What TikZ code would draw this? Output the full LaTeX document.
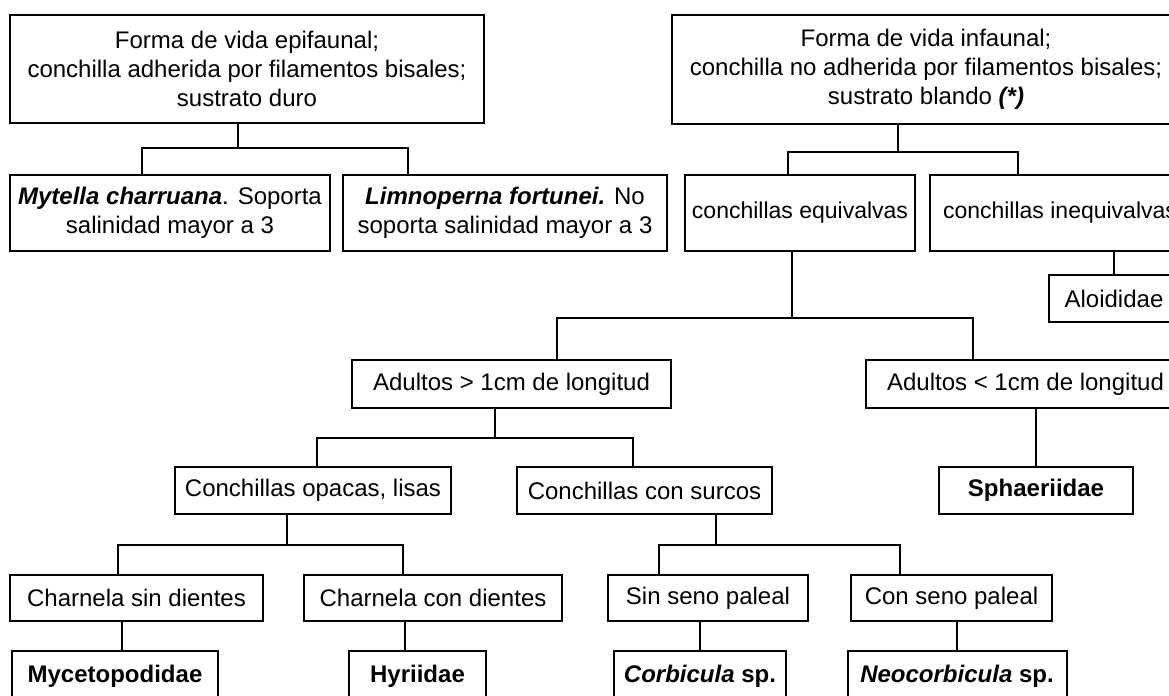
\documentclass[tikz,border=0pt]{standalone}
\usepackage{fontspec}
\setmainfont{Liberation Sans}
\usetikzlibrary{calc}

\begin{document}
\begin{tikzpicture}[x=0.5pt,y=-0.5pt]
	\tikzset{box/.style={draw, line width=1pt, inner sep=0pt, align=center,
			font=\fontsize{12}{14.4}\selectfont},
		small box/.style={box, font=\fontsize{11.5}{13.8}\selectfont},
		link/.style={line width=1pt}}
	\useasboundingbox (0,0) rectangle (1169,696);
	\clip (0,0) rectangle (1169,696);

	% Draw the boxes
	\node[box, minimum width=237pt, minimum height=54pt] at (247,69) (epi) {Forma de vida epifaunal;\\conchilla adherida por filamentos bisales;\\sustrato duro};
	\node[box, minimum width=254pt, minimum height=54.5pt] at (926,69.5) (inf) {Forma de vida infaunal;\\conchilla no adherida por filamentos bisales;\\sustrato blando \textbf{\textit{(*)}}};
	\node[box, minimum width=160pt, minimum height=38pt] at (170,213) (myt) {\textbf{\textit{Mytella charruana}}. Soporta\\salinidad mayor a 3};
	\node[box, minimum width=162pt, minimum height=38pt] at (505,213) (lim) {\textbf{\textit{Limnoperna fortunei.}} No\\soporta salinidad mayor a 3};
	\node[small box, minimum width=115pt, minimum height=38pt] at (800,213) (equ) {conchillas equivalvas};
	\node[small box, minimum width=130pt, minimum height=38pt] at (1060,213) (ineq) {conchillas inequivalvas};
	\node[box, minimum width=65pt, minimum height=23.5pt] at (1114,298.5) (alo) {Aloididae};
	\node[box, minimum width=159.5pt, minimum height=24pt] at (511.5,384) (ad1) {Adultos > 1cm de longitud};
	\node[box, minimum width=159.5pt, minimum height=24pt] at (1025.5,384) (ad2) {Adultos < 1cm de longitud};
	\node[box, minimum width=138pt, minimum height=23.5pt] at (313,490.5) (opa) {Conchillas opacas, lisas};
	\node[box, minimum width=127.5pt, minimum height=23.5pt] at (644.5,490.5) (sur) {Conchillas con surcos};
	\node[box, minimum width=97pt, minimum height=23.5pt] at (1036,490.5) (sph) {\textbf{Sphaeriidae}};
	\node[box, minimum width=126.5pt, minimum height=23pt] at (136.5,598) (csd) {Charnela sin dientes};
	\node[box, minimum width=129pt, minimum height=23pt] at (433,598) (ccd) {Charnela con dientes};
	\node[box, minimum width=100pt, minimum height=23pt] at (708,598) (ssp) {Sin seno paleal};
	\node[box, minimum width=100.5pt, minimum height=23pt] at (951.5,598) (csp) {Con seno paleal};
	\node[box, minimum width=103pt, minimum height=25pt] at (115,676) (myc) {\textbf{Mycetopodidae}};
	\node[box, minimum width=68.5pt, minimum height=25pt] at (417.5,676) (hyr) {\textbf{Hyriidae}};
	\node[box, minimum width=86pt, minimum height=25pt] at (700,676) (cor) {\textbf{\textit{Corbicula} sp.}};
	\node[box, minimum width=109.5pt, minimum height=25pt] at (957,676) (neo) {\textbf{\textit{Neocorbicula} sp.}};

	% Connect the boxes
	\draw[link] ($(epi.south)+(-9,0)$) -- ++(0,24) coordinate (b1);
	\draw[link] ($(myt.north)+(-28,0)$) |- (b1) -| ($(lim.north)+(-97,0)$);
	\draw[link] ($(inf.south)+(-28,0)$) -- ++(0,27) coordinate (b2);
	\draw[link] ($(equ.north)+(-12,0)$) |- (b2) -| ($(ineq.north)+(-42,0)$);
	\draw[link] ($(ineq.south)+(54,0)$) -- (alo.north);
	\draw[link] ($(equ.south)+(-8,0)$) -- ++(0,66) coordinate (b3);
	\draw[link] ($(ad1.north)+(45.5,0)$) |- (b3) -| ($(ad2.north)+(-52.5,0)$);
	\draw[link] ($(ad2.south)+(10.5,0)$) -- (sph.north);
	\draw[link] ($(ad1.south)+(-16.5,0)$) -- ++(0,29) coordinate (b4);
	\draw[link] ($(opa.north)+(4,0)$) |- (b4) -| ($(sur.north)+(-11.5,0)$);
	\draw[link] ($(opa.south)+(-26,0)$) -- ++(0,30) coordinate (b5);
	\draw[link] ($(csd.north)+(-18.5,0)$) |- (b5) -| ($(ccd.north)+(-30,0)$);
	\draw[link] ($(sur.south)+(71.5,0)$) -- ++(0,30) coordinate (b6);
	\draw[link] ($(ssp.north)+(-49,0)$) |- (b6) -| ($(csp.north)+(-51.5,0)$);
	\draw[link] ($(csd.south)+(-14.5,0)$) -- ($(myc.north)+(7,0)$);
	\draw[link] ($(ccd.south)+(-28,0)$) -- ($(hyr.north)+(-12.5,0)$);
	\draw[link] ($(ssp.south)+(-8,0)$) -- (cor.north);
	\draw[link] ($(csp.south)+(5.5,0)$) -- (neo.north);
\end{tikzpicture}
\end{document}
